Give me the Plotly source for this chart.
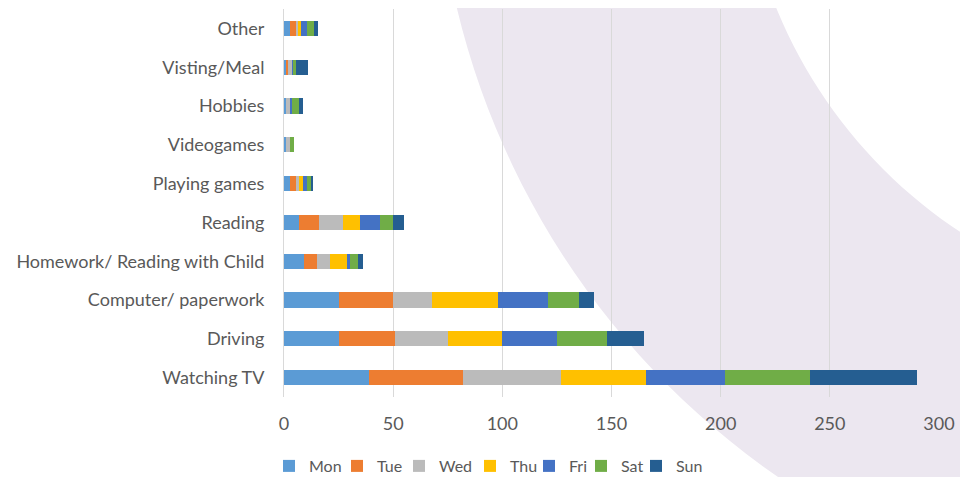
import numpy as np
import plotly.graph_objects as go

# page is rendered with an 8px body margin, so the figure is slightly smaller
OFF = 8
W, H = 968 - OFF, 477 - OFF

# ---------------- data ----------------
categories = ["Watching TV", "Driving", "Computer/ paperwork",
              "Homework/ Reading with Child", "Reading", "Playing games",
              "Videogames", "Hobbies", "Visting/Meal", "Other"]
days = ["Mon", "Tue", "Wed", "Thu", "Fri", "Sat", "Sun"]

mon = [39, 25, 25, 9, 7, 2.7, 0.9, 1.0, 1.0, 2.6]
tue = [43, 26, 25, 6, 9, 2.8, 0.0, 0.0, 0.7, 2.8]
wed = [45, 24, 18, 6, 11, 1.2, 1.8, 1.9, 2.0, 1.3]
thu = [39, 25, 30, 8, 8, 2.1, 0.0, 0.0, 0.0, 0.9]
fri = [36, 25, 23, 1, 9, 1.9, 0.0, 0.8, 0.6, 3.1]
sat = [39, 23, 14, 4, 6, 1.8, 1.9, 3.2, 1.3, 3.0]
sun = [49, 17, 7, 2, 5, 0.9, 0.0, 1.9, 5.4, 2.0]
series = [mon, tue, wed, thu, fri, sat, sun]

x_ticks = [0, 50, 100, 150, 200, 250, 300]

colors = ["#5B9BD5", "#ED7D31", "#BBBBBB", "#FFC000", "#4472C4", "#70AD47", "#255E91"]
# legend entry widths (px) to mimic the original legend spacing
legend_widths = [23, 17, 26, 14, 7, 10, 40]

# ---------------- layout geometry (page pixels) ----------------
PLOT_L, PLOT_R, PLOT_T, PLOT_B = 284, 939, 9, 397
ML = PLOT_L - OFF
MR = W - (PLOT_R - OFF)
MT = max(PLOT_T - OFF, 0)
MB = H - (PLOT_B - OFF)
PW, PH = W - ML - MR, H - MT - MB

def to_paper(px, py):
    # page pixel -> paper coords
    return (px - OFF - ML) / PW, 1 - (py - OFF - MT) / PH

# decorative background ring (slide background)
cx, cy, r_out, r_in = 1230, -177, 795, 490
def circle_path(r, n=240):
    pts = []
    for i in range(n):
        a = 2 * np.pi * i / n
        u, v = to_paper(cx + r * np.cos(a), cy + r * np.sin(a))
        pts.append(f"{u:.5f},{v:.5f}")
    return "M" + " L".join(pts) + " Z"

ring = circle_path(r_out) + " " + circle_path(r_in)

FONT = "Lato"
GREY = "#595959"

fig = go.Figure()
for name, vals, col, lw in zip(days, series, colors, legend_widths):
    fig.add_trace(go.Bar(
        y=categories, x=vals, name=name, orientation="h",
        marker=dict(color=col, line=dict(width=0)),
        legendwidth=lw,
    ))

legend_x, legend_y = to_paper(269, 466)

fig.update_layout(
    width=W, height=H,
    barmode="stack", bargap=0.61,
    margin=dict(l=ML, r=MR, t=MT, b=MB, autoexpand=False),
    paper_bgcolor="white", plot_bgcolor="white",
    font=dict(family=FONT, size=18, color=GREY),
    shapes=[dict(type="path", path=ring, xref="paper", yref="paper",
                 fillcolor="#ECE7F0", fillrule="evenodd",
                 line=dict(width=0), layer="below")],
    legend=dict(orientation="h", x=legend_x, xanchor="left",
                y=legend_y, yanchor="middle",
                font=dict(family=FONT, size=16, color=GREY),
                traceorder="normal", bgcolor="rgba(0,0,0,0)",
                itemwidth=30, entrywidthmode="pixels"),
    xaxis=dict(range=[0, 300], tickvals=x_ticks, showgrid=True,
               gridcolor="#D9D9D9", gridwidth=1, zeroline=False,
               showline=False, ticks="", ticklabelstandoff=14,
               tickfont=dict(family=FONT, size=18, color=GREY)),
    yaxis=dict(showline=True, linecolor="#D9D9D9", linewidth=1,
               showgrid=False, ticks="", ticklabelstandoff=15,
               tickfont=dict(family=FONT, size=18, color=GREY)),
    showlegend=True,
)

fig.write_html("out.html")
